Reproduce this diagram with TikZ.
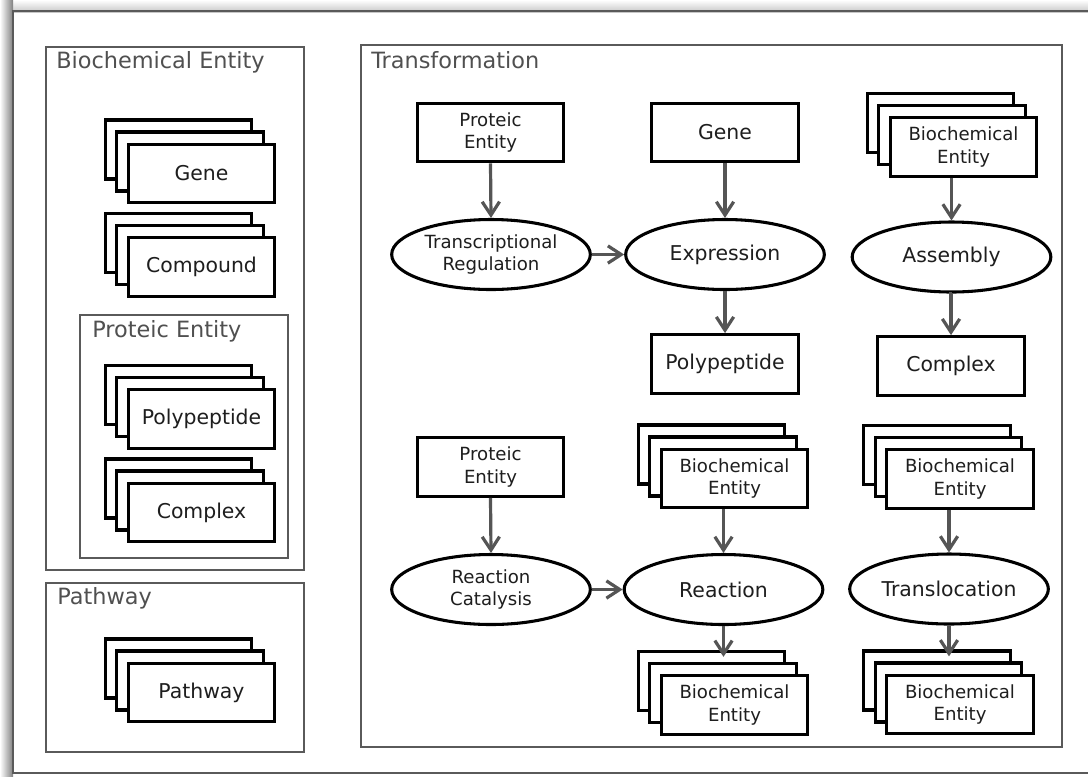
\documentclass[tikz,border=0pt]{standalone}
\usepackage{fontspec}
\setmainfont{DejaVu Sans}
\usetikzlibrary{shapes.geometric,arrows.meta}
\definecolor{frameg}{HTML}{5A5A5A}
\definecolor{txtg}{HTML}{505050}
\definecolor{boxtxt}{HTML}{1E1E1E}
\definecolor{arrg}{HTML}{555555}
\tikzset{
  container/.style={draw=frameg,line width=1.9pt},
  ctitle/.style={anchor=west,inner sep=0pt,text=txtg,font=\fontsize{16.8pt}{20pt}\selectfont},
  boxline/.style={draw=black,line width=2.3pt},
  onebox/.style={boxline,fill=white,rectangle,minimum width=110pt,minimum height=44pt,inner sep=0pt,align=center,text=boxtxt,font=\fontsize{15.3pt}{18pt}\selectfont},
  twobox/.style={onebox,font=\fontsize{13.6pt}{17pt}\selectfont},
  oneell/.style={boxline,fill=white,ellipse,minimum width=149pt,minimum height=52.5pt,inner sep=0pt,align=center,text=boxtxt,font=\fontsize{15.3pt}{18pt}\selectfont},
  twoell/.style={oneell,font=\fontsize{13.6pt}{17pt}\selectfont},
  arr/.style={draw=arrg,line width=2.4pt,-{Straight Barb[length=10pt,width=13pt]}}
}
% #1 name, #2 x, #3 y (front centre), #4 style, #5 text
\newcommand\stacknode[5]{%
  \draw[boxline,fill=white] (#2-23-73.25,#3-24-29.5) rectangle ++(146.5,59);
  \draw[boxline,fill=white] (#2-11.5-73.25,#3-12-29.5) rectangle ++(146.5,59);
  \node[#4] (#1) at (#2,#3) {#5};
  \coordinate (#1b) at (#2-23,#3-24-29.5);
}
\begin{document}
\begin{tikzpicture}[x=0.75pt,y=-0.75pt]
\path[use as bounding box] (0,0) rectangle (1088,776);
\clip (0,0) rectangle (1088,776);
\fill[white] (0,0) rectangle (1088,776);
% frame shadow
\shade[top color=white,bottom color=black!22] (0,0) rectangle (1088,12);
\shade[left color=white,right color=black!50] (0,0) rectangle (13,776);
\draw[frameg,line width=1.6pt] (13,11) rectangle (1100,773);

% ---------- left column ----------
\draw[container] (46,47) rectangle (304,570);
\node[ctitle] (tbe) at (56,62) {Biochemical Entity};
\stacknode{lgene}{201.5}{173.5}{onebox}{Gene}
\stacknode{lcomp}{201.5}{267}{onebox}{Compound}
\draw[container] (80,315) rectangle (288,558);
\node[ctitle] (tpe) at (92,331) {Proteic Entity};
\stacknode{lpoly}{201.5}{419}{onebox}{Polypeptide}
\stacknode{lcplx}{201.5}{512.5}{onebox}{Complex}
\draw[container] (46,583) rectangle (304,752);
\node[ctitle] (tpw) at (57,598) {Pathway};
\stacknode{lpath}{201.5}{692.5}{onebox}{Pathway}

% ---------- transformation ----------
\draw[container] (361,45) rectangle (1062,747);
\node[ctitle] (ttr) at (371,60) {Transformation};

\node[twobox] (pe1) at (490.5,132.5) {Proteic\\Entity};
\node[onebox] (gene) at (725,132.5) {Gene};
\node[twoell] (tr) at (491,254.5) {Transcriptional\\Regulation};
\node[oneell] (ex) at (725,254.5) {Expression};
\node[onebox] (pp) at (725,364) {Polypeptide};

\stacknode{bs1}{963.5}{147}{twobox}{Biochemical\\Entity}
\node[oneell] (as) at (951.5,257) {Assembly};
\node[onebox] (cx) at (951,366) {Complex};

\node[twobox] (pe2) at (490.5,467) {Proteic\\Entity};
\node[twoell] (rc) at (491,589.5) {Reaction\\Catalysis};
\stacknode{bs2}{734.5}{478.5}{twobox}{Biochemical\\Entity}
\node[oneell] (re) at (723.5,589.5) {Reaction};
\stacknode{bs3}{734.5}{705}{twobox}{Biochemical\\Entity}

\stacknode{bs4}{960}{479}{twobox}{Biochemical\\Entity}
\node[oneell] (tl) at (949,589) {Translocation};
\stacknode{bs5}{960}{704.5}{twobox}{Biochemical\\Entity}

% ---------- arrows ----------
\draw[arr] (pe1.south) -- (tr.north);
\draw[arr] (gene.south) -- (ex.north);
\draw[arr] (tr.east) -- (ex.west);
\draw[arr] (ex.south) -- (pp.north);
\draw[arr] (as.north |- bs1.south) -- (as.north);
\draw[arr] (as.south) -- (cx.north |- as.south) -- (cx.north);
\draw[arr] (pe2.south) -- (rc.north);
\draw[arr] (rc.east) -- (re.west);
\draw[arr] (re.north |- bs2.south) -- (re.north);
\draw[arr,shorten >=-4pt] (re.south) -- (re.south |- bs3b);
\draw[arr] (tl.north |- bs4.south) -- (tl.north);
\draw[arr,shorten >=-4pt] (tl.south) -- (tl.south |- bs5b);
\end{tikzpicture}
\end{document}
